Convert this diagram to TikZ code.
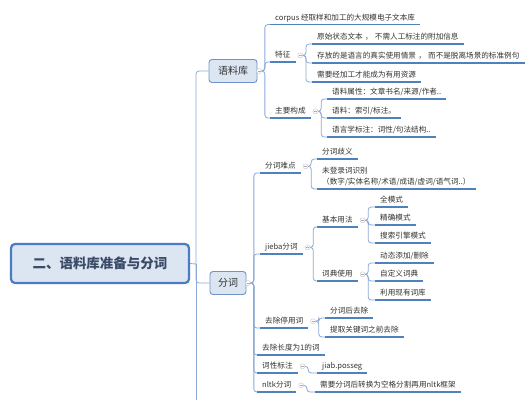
\documentclass[tikz,border=0pt]{standalone}
\usepackage{fontspec}
\setmainfont{Noto Sans CJK SC}
\usetikzlibrary{positioning}
\definecolor{linkblue}{HTML}{8CAAD7}
\definecolor{lineblue}{HTML}{4F81BD}
\definecolor{boxfill}{HTML}{DCE6F2}
\definecolor{boxdraw}{HTML}{7094C8}
\definecolor{rootdraw}{HTML}{4A7CC0}
\definecolor{roottext}{HTML}{3B4A66}
\definecolor{leaftext}{HTML}{333333}
\newcommand{\zhcomma}{\makebox[1.6em][c]{，}}
\begin{document}
\begin{tikzpicture}[
    x=1pt, y=-1pt,
    root/.style={rectangle, rounded corners=4pt, draw=rootdraw, line width=2.2pt, fill=boxfill, minimum width=178pt, minimum height=39pt, text=roottext, font=\fontsize{13.5}{16}\selectfont\bfseries},
    main/.style={rectangle, rounded corners=3pt, draw=boxdraw, line width=0.9pt, fill=boxfill, minimum height=23pt, inner xsep=4pt, text=leaftext, font=\fontsize{10}{12}\selectfont},
    uline/.style={draw=lineblue, line width=1.1pt},
    topic/.style={anchor=south west, inner xsep=5pt, inner ysep=2.5pt, text depth=1.6pt, text=leaftext, font=\fontsize{7.6}{11}\selectfont,
        append after command={\pgfextra{\let\topicnode=\tikzlastnode} (\topicnode.south west) edge[uline] (\topicnode.south east)}},
    fold/.style={circle, draw=gray!45, fill=white, inner sep=0pt, minimum size=5pt,
        path picture={\draw[gray!65, line width=0.4pt] ([xshift=-1.4pt]path picture bounding box.center) -- ([xshift=1.4pt]path picture bounding box.center);}},
    link/.style={draw=linkblue, line width=0.8pt, rounded corners=3pt}
]
\useasboundingbox[fill=white] (0,0) rectangle (531,400);
\node[root] (root) at (100, 263.5) {二、语料库准备与分词};
\node[main, minimum width=48pt] (corp) at (233, 71) {语料库};
\node[main, minimum width=36pt] (seg) at (228, 283) {分词};
\coordinate (hub) at (196, 264);
\coordinate (trunkend) at (196, 400);
\node[topic] (corpus) at (270, 24.5) {corpus 经取样和加工的大规模电子文本库};
\node[topic] (feat) at (270, 62) {特征};
\node[topic] (parts) at (270, 118) {主要构成};
\node[topic, minimum width=148pt] (raw) at (312, 44) {原始状态文本\zhcomma 不需人工标注的附加信息};
\node[topic, minimum width=209pt] (real) at (312, 63) {存放的是语言的真实使用情景\zhcomma 而不是脱离场景的标准例句};
\node[topic] (proc) at (312, 82) {需要经加工才能成为有用资源};
\node[topic] (attr) at (327, 99) {语料属性：文章书名/来源/作者..};
\node[topic] (idx) at (327, 118) {语料：索引/标注。};
\node[topic] (ling) at (327, 137) {语言学标注：词性/句法结构..};
\node[topic] (hard) at (260, 173) {分词难点};
\node[topic] (jieba) at (260, 254) {jieba分词};
\node[topic] (stop) at (260, 328) {去除停用词};
\node[topic] (len1) at (257, 355) {去除长度为1的词};
\node[topic] (pos) at (257, 373) {词性标注};
\node[topic] (nltk) at (257, 392) {nltk分词};
\node[topic] (ambig) at (317, 159) {分词歧义};
\node[topic, align=left] (oov) at (317, 189) {未登录词识别\\（数字/实体名称/术语/成语/虚词/语气词..）};
\node[topic] (basic) at (317, 227) {基本用法};
\node[topic] (dict) at (317, 281) {词典使用};
\node[topic] (full) at (375, 207) {全模式};
\node[topic] (exact) at (375, 225) {精确模式};
\node[topic] (search) at (375, 243) {搜索引擎模式};
\node[topic] (dyn) at (375, 263) {动态添加/删除};
\node[topic] (custom) at (375, 281) {自定义词典};
\node[topic] (exist) at (375, 300) {利用现有词库};
\node[topic] (after) at (325, 318) {分词后去除};
\node[topic] (before) at (325, 337) {提取关键词之前去除};
\node[topic] (posseg) at (317, 373) {jiab.posseg};
\node[topic] (nltkuse) at (315, 392) {需要分词后转换为空格分割再用nltk框架};
\node[fold, right=-1pt of corp] (fcorp) {};
\node[fold, right=-1pt of seg] (fseg) {};
\node[fold, right=2pt of feat] (ffeat) {};
\node[fold, right=2pt of parts] (fparts) {};
\node[fold, right=2pt of hard] (fhard) {};
\node[fold, right=2pt of jieba] (fjieba) {};
\node[fold, right=2pt of basic] (fbasic) {};
\node[fold, right=2pt of dict] (fdict) {};
\node[fold, right=2pt of stop] (fstop) {};
\node[fold, right=2pt of pos] (fpos) {};
\node[fold, right=2pt of nltk] (fnltk) {};
\draw[link] (root.east) -- (hub);
\draw[link] (hub) |- (corp.west);
\draw[link] (hub) |- (seg.west);
\draw[link] (hub) -- (trunkend);
\draw[link] (fcorp.east) -- ++(3,0) |- (corpus.south west);
\draw[link] (fcorp.east) -- ++(3,0) |- (feat.south west);
\draw[link] (fcorp.east) -- ++(3,0) |- (parts.south west);
\draw[link] (ffeat.east) -- ++(3,0) |- (raw.south west);
\draw[link] (ffeat.east) -- ++(3,0) |- (real.south west);
\draw[link] (ffeat.east) -- ++(3,0) |- (proc.south west);
\draw[link] (fparts.east) -- ++(3,0) |- (attr.south west);
\draw[link] (fparts.east) -- ++(3,0) |- (idx.south west);
\draw[link] (fparts.east) -- ++(3,0) |- (ling.south west);
\draw[link] (fseg.east) -- ++(3,0) |- (hard.south west);
\draw[link] (fseg.east) -- ++(3,0) |- (jieba.south west);
\draw[link] (fseg.east) -- ++(3,0) |- (stop.south west);
\draw[link] (fseg.east) -- ++(3,0) |- (len1.south west);
\draw[link] (fseg.east) -- ++(3,0) |- (pos.south west);
\draw[link] (fseg.east) -- ++(3,0) |- (nltk.south west);
\draw[link] (fhard.east) -- ++(3,0) |- (ambig.south west);
\draw[link] (fhard.east) -- ++(3,0) |- (oov.south west);
\draw[link] (fjieba.east) -- ++(3,0) |- (basic.south west);
\draw[link] (fjieba.east) -- ++(3,0) |- (dict.south west);
\draw[link] (fbasic.east) -- ++(3,0) |- (full.south west);
\draw[link] (fbasic.east) -- ++(3,0) |- (exact.south west);
\draw[link] (fbasic.east) -- ++(3,0) |- (search.south west);
\draw[link] (fdict.east) -- ++(3,0) |- (dyn.south west);
\draw[link] (fdict.east) -- ++(3,0) |- (custom.south west);
\draw[link] (fdict.east) -- ++(3,0) |- (exist.south west);
\draw[link] (fstop.east) -- ++(3,0) |- (after.south west);
\draw[link] (fstop.east) -- ++(3,0) |- (before.south west);
\draw[link] (fpos.east) -- ++(3,0) |- (posseg.south west);
\draw[link] (fnltk.east) -- ++(3,0) |- (nltkuse.south west);
\end{tikzpicture}
\end{document}
